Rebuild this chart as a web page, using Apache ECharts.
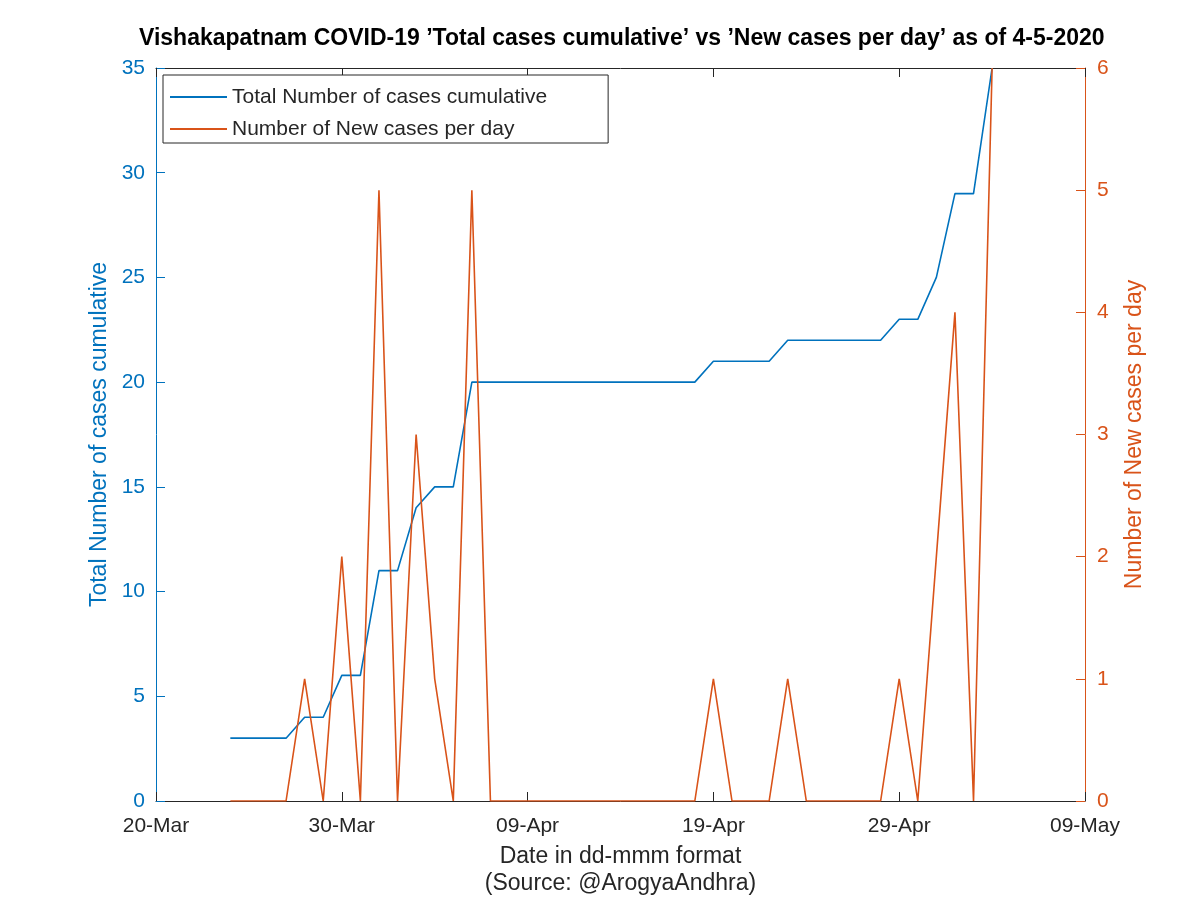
<!DOCTYPE html>
<html>
<head>
<meta charset="utf-8">
<script src="https://cdn.jsdelivr.net/npm/echarts@6/dist/echarts.min.js"></script>
<style>
html,body{margin:0;padding:0;background:#fff;}
#chart{width:1200px;height:898px;}
</style>
</head>
<body>
<div id="chart"></div>
<script>
// ---- data ----
const dates = [
  '2020-03-24','2020-03-25','2020-03-26','2020-03-27','2020-03-28','2020-03-29','2020-03-30','2020-03-31',
  '2020-04-01','2020-04-02','2020-04-03','2020-04-04','2020-04-05','2020-04-06','2020-04-07','2020-04-08',
  '2020-04-09','2020-04-10','2020-04-11','2020-04-12','2020-04-13','2020-04-14','2020-04-15','2020-04-16',
  '2020-04-17','2020-04-18','2020-04-19','2020-04-20','2020-04-21','2020-04-22','2020-04-23','2020-04-24',
  '2020-04-25','2020-04-26','2020-04-27','2020-04-28','2020-04-29','2020-04-30','2020-05-01','2020-05-02',
  '2020-05-03','2020-05-04'
];
const totalCases = [
  3,3,3,3,4,4,6,6,
  11,11,14,15,15,20,20,20,
  20,20,20,20,20,20,20,20,
  20,20,21,21,21,21,22,22,
  22,22,22,22,23,23,25,29,
  29,35
];
const newCases = [
  0,0,0,0,1,0,2,0,
  5,0,3,1,0,5,0,0,
  0,0,0,0,0,0,0,0,
  0,0,1,0,0,0,1,0,
  0,0,0,0,1,0,2,4,
  0,6
];
const xStartDate = '2020-03-20';
const xTickLabels = ['20-Mar','30-Mar','09-Apr','19-Apr','29-Apr','09-May'];
const seriesNames = ['Total Number of cases cumulative','Number of New cases per day'];

// ---- build ----
const DAY = 86400000;
const t0 = Date.parse(xStartDate + 'T00:00:00Z');
const dayIdx = d => Math.round((Date.parse(d + 'T00:00:00Z') - t0) / DAY);
const totalData = dates.map((d, i) => [dayIdx(d), totalCases[i]]);
const newData = dates.map((d, i) => [dayIdx(d), newCases[i]]);

const BLUE = '#0072BD';
const ORANGE = '#D95319';
const DARK = '#262626';
const FONT = 'Liberation Sans, Arial, Helvetica, sans-serif';

const chart = echarts.init(document.getElementById('chart'), null, {renderer: 'canvas'});
chart.setOption({
  animation: false,
  backgroundColor: '#fff',
  textStyle: {fontFamily: FONT},
  title: {
    text: 'Vishakapatnam COVID-19 \u2019Total cases cumulative\u2019 vs \u2019New cases per day\u2019 as of 4-5-2020',
    left: 139,
    top: 27,
    padding: 0,
    textStyle: {fontFamily: FONT, fontSize: 23, fontWeight: 'bold', color: '#000'}
  },
  legend: {
    data: seriesNames,
    orient: 'vertical',
    left: 163,
    top: 75,
    icon: 'rect',
    itemWidth: 57,
    itemHeight: 2,
    itemGap: 8,
    itemTextGap: 9,
    padding: [10, 61, 2, 7],
    backgroundColor: '#fff',
    borderColor: DARK,
    borderWidth: 1,
    borderRadius: 0,
    selectedMode: false,
    textStyle: {fontFamily: FONT, fontSize: 21, lineHeight: 24, color: DARK}
  },
  grid: {left: 156, right: 115, top: 68, bottom: 97, containLabel: false, outerBoundsMode: 'none'},
  xAxis: [{
    type: 'value', min: 0, max: 50, interval: 10, position: 'bottom',
    axisLine: {show: true, onZero: false, lineStyle: {color: DARK, width: 1}},
    axisTick: {show: true, inside: true, length: 9, lineStyle: {color: DARK}},
    axisLabel: {formatter: v => xTickLabels[Math.round(v / 10)], fontSize: 21, color: DARK, margin: 15, fontFamily: FONT},
    splitLine: {show: false},
    name: 'Date in dd-mmm format\n(Source: @ArogyaAndhra)',
    nameLocation: 'middle',
    nameGap: 42,
    nameTextStyle: {fontSize: 23, lineHeight: 27, color: DARK, fontFamily: FONT, verticalAlign: 'top'}
  }, {
    type: 'value', min: 0, max: 50, interval: 10, position: 'top',
    axisLine: {show: true, onZero: false, lineStyle: {color: DARK, width: 1}},
    axisTick: {show: true, inside: true, length: 9, lineStyle: {color: DARK}},
    axisLabel: {show: false},
    splitLine: {show: false}
  }],
  yAxis: [{
    type: 'value', min: 0, max: 35, interval: 5, position: 'left',
    axisLine: {show: true, onZero: false, lineStyle: {color: BLUE, width: 1}},
    axisTick: {show: true, inside: true, length: 9, lineStyle: {color: BLUE}},
    axisLabel: {fontSize: 21, color: BLUE, margin: 11, fontFamily: FONT, padding: [8, 0, 0, 0]},
    splitLine: {show: false},
    name: 'Total Number of cases cumulative',
    nameLocation: 'middle',
    nameRotate: 90,
    nameGap: 37,
    nameTextStyle: {fontSize: 23, color: BLUE, fontFamily: FONT}
  }, {
    type: 'value', min: 0, max: 6, interval: 1, position: 'right',
    axisLine: {show: true, onZero: false, lineStyle: {color: ORANGE, width: 1}},
    axisTick: {show: true, inside: true, length: 9, lineStyle: {color: ORANGE}},
    axisLabel: {fontSize: 21, color: ORANGE, margin: 12, fontFamily: FONT, padding: [8, 0, 0, 0]},
    splitLine: {show: false},
    name: 'Number of New cases per day',
    nameLocation: 'middle',
    nameRotate: 90,
    nameGap: 38,
    nameTextStyle: {fontSize: 23, color: ORANGE, fontFamily: FONT}
  }],
  series: [{
    name: seriesNames[0], type: 'line', xAxisIndex: 0, yAxisIndex: 0,
    data: totalData, showSymbol: false, symbol: 'none',
    lineStyle: {color: BLUE, width: 1.6}, itemStyle: {color: BLUE}, z: 3
  }, {
    name: seriesNames[1], type: 'line', xAxisIndex: 0, yAxisIndex: 1,
    data: newData, showSymbol: false, symbol: 'none',
    lineStyle: {color: ORANGE, width: 1.6}, itemStyle: {color: ORANGE}, z: 4
  }]
});
</script>
</body>
</html>
